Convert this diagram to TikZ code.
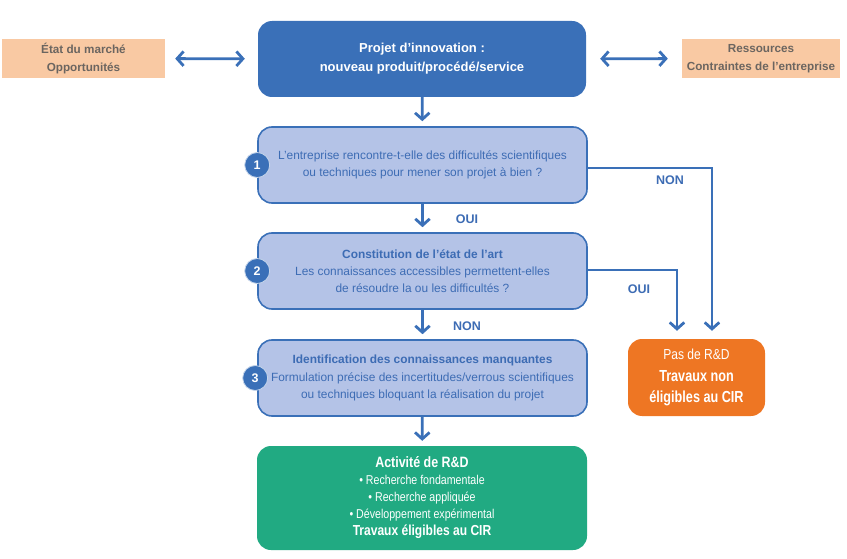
\documentclass[tikz,border=0pt]{standalone}
\usepackage{fontspec}
\setmainfont{Liberation Sans}
\newfontfamily\condf{Liberation Sans}[FakeStretch=0.83]
\newfontfamily\condb{Liberation Sans}[FakeStretch=0.79]
\usetikzlibrary{arrows.meta}
\definecolor{dblue}{HTML}{3A70B8}
\definecolor{lblue}{HTML}{B4C3E7}
\definecolor{tblue}{HTML}{3D6CB4}
\definecolor{peach}{HTML}{F9C9A3}
\definecolor{peachtext}{HTML}{6B6560}
\definecolor{rdgreen}{HTML}{21AA82}
\definecolor{orangebox}{HTML}{EE7623}
\tikzset{
  box/.style={rounded corners=14pt, align=center, inner sep=0pt},
  topbox/.style={box, fill=dblue, text=white, minimum width=328pt, minimum height=76pt, font=\fontsize{13}{19}\selectfont\bfseries},
  qbox/.style={box, fill=lblue, draw=dblue, line width=1.6pt, text=tblue, minimum width=329pt, minimum height=76pt, font=\fontsize{11.9}{16.8}\selectfont},
  side/.style={fill=peach, text=peachtext, align=center, inner sep=0pt, font=\fontsize{11.7}{18}\selectfont\bfseries},
  num/.style={circle, fill=dblue, draw=white!70!dblue, line width=0.8pt, text=white, minimum size=25pt, inner sep=0pt, font=\fontsize{12.5}{12}\selectfont\bfseries},
  arr/.style={draw=dblue, line width=2.8pt, -{Straight Barb[length=6.5pt,width=14.5pt]}},
  darr/.style={draw=dblue, line width=2.8pt, {Straight Barb[length=6.5pt,width=14.5pt]}-{Straight Barb[length=6.5pt,width=14.5pt]}},
  lab/.style={text=tblue, font=\fontsize{12.5}{14}\selectfont\bfseries, inner sep=0pt},
}
\begin{document}
\begin{tikzpicture}[x=1pt,y=-1pt]
\useasboundingbox (0,0) rectangle (847,559);
% top row
\node[topbox] (top) at (422,59) {Projet d’innovation :\\nouveau produit/procédé/service};
\node[side, minimum width=163pt, minimum height=39pt] (left) at (83.5,58.5) {État du marché\\Opportunités};
\node[side, minimum width=158pt, minimum height=39pt] (right) at (761,58.5) {Ressources\\Contraintes de l’entreprise};
% questions
\node[qbox] (n1) at (422.5,165) {L’entreprise rencontre-t-elle des difficultés scientifiques\\ou techniques pour mener son projet à bien ?};
\node[qbox] (n2) at (422.5,271) {\textbf{Constitution de l’état de l’art}\\Les connaissances accessibles permettent-elles\\de résoudre la ou les difficultés ?};
\node[qbox, font=\fontsize{11.9}{17.5}\selectfont] (n3) at (422.5,378) {\textbf{Identification des connaissances manquantes}\\Formulation précise des incertitudes/verrous scientifiques\\ou techniques bloquant la réalisation du projet};
\node[num] (c1) at (n1.west) {1};
\node[num] (c2) at (n2.west) {2};
\node[num] (c3) at ([xshift=-2pt]n3.west) {3};
% outcomes
\node[box, fill=rdgreen, text=white, minimum width=330pt, minimum height=104pt, font=\condf\fontsize{12.8}{17}\selectfont] (rd) at (422,498)
  {{\fontsize{15}{17}\selectfont\bfseries Activité de R\&D}\\• Recherche fondamentale\\• Recherche appliquée\\• Développement expérimental\\{\fontsize{14.5}{19.5}\selectfont\bfseries Travaux éligibles au CIR}};
\node[box, fill=orangebox, text=white, minimum width=137pt, minimum height=77pt, font=\condf\fontsize{14.5}{21.5}\selectfont] (no) at (696.5,377.5)
  {Pas de R\&D\\{\condb\fontsize{16}{21.5}\selectfont\bfseries Travaux non}\\{\condb\fontsize{16}{21.5}\selectfont\bfseries éligibles au CIR}};
% connectors
\draw[darr, shorten <=10pt, shorten >=13pt] (left) -- (top);
\draw[darr, shorten <=14pt, shorten >=14pt] (top) -- (right);
\draw[arr, shorten >=5pt] (top) -- (n1);
\draw[arr, shorten >=5pt] (n1) -- (n2);
\draw[arr, shorten >=5pt] (n2) -- (n3);
\draw[arr, shorten >=5pt] (n3) -- (rd);
\draw[arr, shorten >=8pt] ([yshift=-3pt]n1.east) -| ([xshift=15.5pt]no.north);
\draw[arr, shorten >=8pt] ([yshift=1pt]n2.east) -| ([xshift=-19.5pt]no.north);
% labels
\node[lab] (l1) at (467,219) {OUI};
\node[lab] (l2) at (467,326) {NON};
\node[lab] (l3) at (670,180) {NON};
\node[lab] (l4) at (639,289) {OUI};
\end{tikzpicture}
\end{document}
